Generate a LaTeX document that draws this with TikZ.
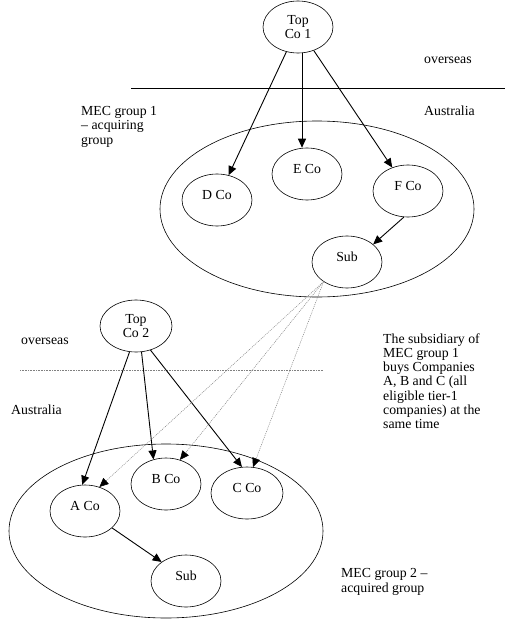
\documentclass[tikz,border=0pt]{standalone}
\usepackage{fontspec}
\setmainfont{Liberation Serif}
\usetikzlibrary{shapes.geometric,arrows.meta}
\begin{document}
\begin{tikzpicture}[x=1pt,y=-1pt,
  every node/.style={font=\fontsize{13.8}{13.6}\selectfont},
  co/.style={draw,ellipse,line width=0.6pt,inner sep=0pt,minimum width=70,minimum height=52,align=center},
  up/.style={text depth=10pt},
  grp/.style={draw,ellipse,line width=0.6pt},
  arr/.style={line width=0.9pt,-{Triangle[length=9pt,width=8pt]}},
  darr/.style={gray,line width=0.5pt,dash pattern=on 1pt off 1pt,-{Triangle[length=9pt,width=8pt,fill=black,color=black]}},
  lbl/.style={anchor=base west,align=left,inner sep=0pt,font=\fontsize{13.8}{14.2}\selectfont},
]
\useasboundingbox (0,0) rectangle (507,621);
% groups
\draw[grp] (317,209) ellipse [x radius=157,y radius=88];
\draw[grp] (166,531) ellipse [x radius=157,y radius=87];
% border lines
\coordinate (l1a) at (131,88);
\coordinate (l1b) at (505,88);
\coordinate (l2a) at (20,370);
\coordinate (l2b) at (323,370);
\draw[line width=0.8pt] (l1a) -- (l1b);
\draw[gray,line width=0.8pt,dash pattern=on 1pt off 0.6pt] (l2a) -- (l2b);
% companies
\node[co] (T1) at (298,27) {Top\\Co 1};
\node[co,up] (D) at (217,200) {D Co};
\node[co,up] (E) at (307,174) {E Co};
\node[co,up] (F) at (408,191) {F Co};
\node[co,up] (S1) at (347,262) {Sub};
\node[co,minimum width=72] (T2) at (136,326) {Top\\Co 2};
\node[co,up] (A) at (85,511) {A Co};
\node[co,up] (B) at (166,484) {B Co};
\node[co,up,minimum width=72] (C) at (247,493) {C Co};
\node[co,up] (S2) at (186,581) {Sub};
% arrows group 1
\draw[arr] (T1) -- (D);
\draw[arr] ([xshift=4]T1.south) -- ([xshift=-5]E.north);
\draw[arr] (T1) -- (F);
\draw[arr] (F.261) -- (S1.34);
% arrows group 2
\draw[arr] (T2.256) -- (A.96);
\draw[arr] (T2.282) -- (B.117);
\draw[arr] (T2.301) -- (C.101);
\draw[arr] (A.-32) -- (S2.142);
% acquisition arrows
\draw[darr] (S1.220) -- (A.59);
\draw[darr] (S1.220) -- (B.60);
\draw[darr] (S1.220) -- (C.77);
% labels (anchored at the baseline of the last line)
\node[lbl] (ov1) at (424,63) {overseas};
\node[lbl] (au1) at (424,115.5) {Australia};
\node[lbl] (mec1) at (81,144) {MEC group 1\\-- acquiring\\group};
\node[lbl] (ov2) at (21,344) {overseas};
\node[lbl] (au2) at (11,414.5) {Australia};
\node[lbl] (txt) at (383,428.5) {The subsidiary of\\MEC group 1\\buys Companies\\A, B and C (all\\eligible tier-1\\companies) at the\\same time};
\node[lbl] (mec2) at (341,592) {MEC group 2 --\\acquired group};
\end{tikzpicture}
\end{document}
